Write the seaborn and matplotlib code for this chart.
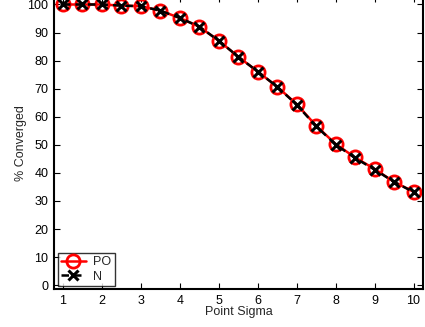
import matplotlib
matplotlib.use("Agg")
import matplotlib.pyplot as plt
import seaborn as sns

sigma = [1, 1.5, 2, 2.5, 3, 3.5, 4, 4.5, 5, 5.5, 6, 6.5, 7, 7.5, 8, 8.5, 9, 9.5, 10]
po = [100, 100, 100, 99.6, 99.4, 97.8, 95.2, 92.1, 87.1, 81.4, 76.1, 70.7,
      64.5, 56.8, 50.3, 45.5, 41.4, 36.8, 33.3]
n = [100, 100, 100, 99.6, 99.4, 97.8, 95.2, 92.1, 87.1, 81.4, 76.1, 70.7,
     64.3, 56.6, 50.1, 45.3, 41.2, 36.8, 33.2]

sns.set_style("ticks")
plt.rcParams["font.family"] = ["Liberation Sans", "DejaVu Sans"]

fig = plt.figure(figsize=(4.25, 3.27), dpi=100)
ax = fig.add_axes([0.127, 0.115, 0.868, 0.897])

sns.lineplot(x=sigma, y=po, ax=ax, color="red", lw=1.8, marker="o", ms=9.5,
             mfc="none", mec="red", mew=2, label="PO")
sns.lineplot(x=sigma, y=n, ax=ax, color="black", lw=1.8, ls=(0, (3, 2)),
             marker="x", ms=7, mew=2.2, mec="black", label="N")

ax.set_xlim(0.77, 10.24)
ax.set_ylim(-1.5, 103)
ax.set_xticks(range(1, 11))
ax.set_yticks(range(0, 101, 10))
ax.tick_params(direction="in", length=4, width=0.8, labelsize=9,
               top=True, right=True, colors="black", pad=4)
for s in ax.spines.values():
    s.set_linewidth(1.5)
    s.set_color("black")
ax.set_xlabel("Point Sigma", fontsize=9, labelpad=-1)
ax.set_ylabel("% Converged", fontsize=9, labelpad=0)

leg = ax.legend(loc="lower left", fontsize=9, frameon=True, fancybox=False,
                edgecolor="black", borderaxespad=0.3, handlelength=2.0,
                borderpad=0.25, labelspacing=0.2, handletextpad=0.6)
leg.get_frame().set_linewidth(1.0)

fig.savefig("out.png", dpi=100)
